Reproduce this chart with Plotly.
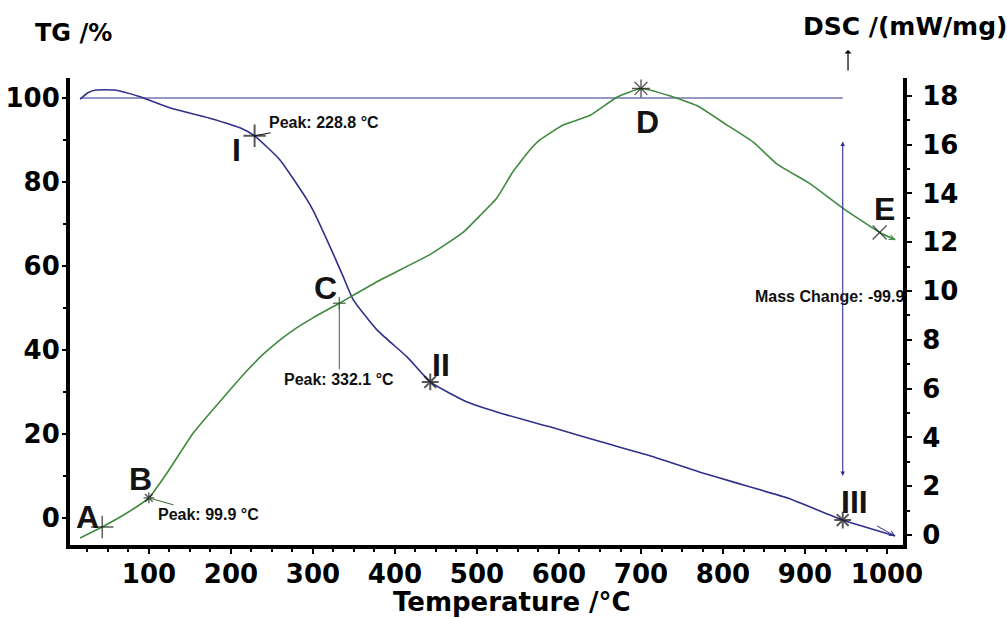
import plotly.graph_objects as go

# ---------------- data ----------------
tg_temp = [16, 25, 35, 58, 89, 126, 174, 211, 228.8, 260, 293, 300, 321, 337, 349,
           378, 415, 443, 488, 528, 589, 650, 711, 772, 812, 878, 946, 1010]
tg_val = [99.7, 101.2, 101.9, 101.9, 100.3, 97.6, 95.2, 92.9, 91.0, 85.2, 75.7, 73.3, 64.5, 57.4, 52.0,
          44.8, 38.3, 32.4, 27.6, 25.0, 21.7, 18.2, 14.8, 10.9, 8.6, 4.8, -0.5, -4.3]

dsc_temp = [16, 43, 73, 99.9, 122, 154, 195, 220, 239, 258, 276, 300, 332.1, 382, 443, 483, 504, 524,
            544, 565, 577, 605, 638, 671, 700, 735, 768, 805, 837, 866, 906, 946, 991, 1010]
dsc_val = [-0.12, 0.33, 0.9, 1.52, 2.54, 4.18, 5.8, 6.75, 7.4, 7.95, 8.4, 8.9, 9.5, 10.45, 11.5, 12.4, 13.1, 13.8,
           14.9, 15.8, 16.2, 16.8, 17.2, 17.95, 18.3, 18.0, 17.6, 16.8, 16.1, 15.2, 14.4, 13.4, 12.4, 12.1]

# reference (100 %) line and mass-change arrow
baseline_temp = [16, 946]
baseline_tg = [100, 100]
mass_change_temp = 946
mass_change_span = [90, 10]
mass_change_text = "Mass Change: -99.9 %"

# marked points
dsc_pt_names = ["A", "B", "C", "D", "E"]
dsc_pt_temp = [43, 99.9, 332.1, 700, 991]
dsc_pt_val = [0.33, 1.52, 9.5, 18.3, 12.4]
tg_pt_names = ["I", "II", "III"]
tg_pt_temp = [228.8, 443, 946]
tg_pt_val = [91.0, 32.4, -0.5]

peak_labels = ["Peak: 99.9 °C", "Peak: 228.8 °C", "Peak: 332.1 °C"]

x_title = "Temperature /°C"
y1_title = "TG /%"
y2_title = "DSC /(mW/mg)"

# ---------------- styles ----------------
TG_COLOR = "#30308c"
DSC_COLOR = "#3f8a3f"
TICK_FONT = dict(family="DejaVu Sans", size=26, color="black", weight="bold")
LBL_FONT = dict(family="Liberation Sans", size=16, color="#111111", weight="bold")
LETTER_FONT = dict(family="Liberation Sans", size=32, color="#141414", weight="bold")

fig = go.Figure()

fig.add_trace(go.Scatter(x=baseline_temp, y=baseline_tg, mode="lines",
                         line=dict(color=TG_COLOR, width=1.2), hoverinfo="skip"))
fig.add_trace(go.Scatter(x=tg_temp, y=tg_val, mode="lines",
                         line=dict(color=TG_COLOR, width=1.6, shape="spline", smoothing=0.5)))
fig.add_trace(go.Scatter(x=dsc_temp, y=dsc_val, mode="lines", yaxis="y2",
                         line=dict(color=DSC_COLOR, width=1.6, shape="spline", smoothing=0.4)))

# markers
dsc_symbols = ["cross-thin-open", "asterisk-open", "cross-thin-open", "asterisk-open", "x-thin-open"]
dsc_sizes = [16, 9, 9, 15, 14]
dsc_mcol = ["#111111", "#111111", "#1f4f1f", "#111111", "#111111"]
fig.add_trace(go.Scatter(x=dsc_pt_temp, y=dsc_pt_val, mode="markers", yaxis="y2",
                         marker=dict(symbol=dsc_symbols, size=dsc_sizes, color=dsc_mcol,
                                     line=dict(color=dsc_mcol, width=1.4))))
tg_symbols = ["cross-thin-open", "asterisk-open", "asterisk-open"]
fig.add_trace(go.Scatter(x=tg_pt_temp, y=tg_pt_val, mode="markers",
                         marker=dict(symbol=tg_symbols, size=[16, 14, 14], color="#111111",
                                     line=dict(color="#111111", width=2))))

# clipped "Mass Change" text
fig.add_trace(go.Scatter(x=[839], y=[52.4], mode="text", text=[mass_change_text],
                         textposition="middle right", cliponaxis=True,
                         textfont=LBL_FONT, hoverinfo="skip"))

ann = []
# point letters
dsc_shift = [(-15, 10), (-8, 19), (-14, 15), (6, -34), (5, 23)]
for n, t, v, (dx, dy) in zip(dsc_pt_names, dsc_pt_temp, dsc_pt_val, dsc_shift):
    ann.append(dict(x=t, y=v, xref="x", yref="y2", text=n, showarrow=False,
                    xshift=dx, yshift=dy, font=LETTER_FONT))
tg_shift = [(-18, -14), (11, 17), (12, 18)]
for n, t, v, (dx, dy) in zip(tg_pt_names, tg_pt_temp, tg_pt_val, tg_shift):
    ann.append(dict(x=t, y=v, xref="x", yref="y", text=n, showarrow=False,
                    xshift=dx, yshift=dy, font=LETTER_FONT))

# peak labels with leader lines
ann.append(dict(x=dsc_pt_temp[1], y=dsc_pt_val[1], xref="x", yref="y2", text=peak_labels[0],
                showarrow=True, arrowhead=0, arrowwidth=1, arrowcolor="#2f6f2f",
                ax=60, ay=17, font=LBL_FONT))
ann.append(dict(x=tg_pt_temp[0], y=tg_pt_val[0], xref="x", yref="y", text=peak_labels[1],
                showarrow=True, arrowhead=0, arrowwidth=1, arrowcolor="#111111",
                ax=69, ay=-13, font=LBL_FONT))
ann.append(dict(x=dsc_pt_temp[2], y=dsc_pt_val[2], xref="x", yref="y2", text=peak_labels[2],
                showarrow=True, arrowhead=0, arrowwidth=1, arrowcolor="#2f6f2f",
                ax=0, ay=76, font=LBL_FONT))

# mass change double arrow
ann.append(dict(x=mass_change_temp, y=mass_change_span[1], ax=mass_change_temp, ay=mass_change_span[0],
                xref="x", yref="y", axref="x", ayref="y", text="", showarrow=True,
                arrowhead=2, startarrowhead=2, arrowside="end+start", arrowsize=0.8,
                startarrowsize=0.8, arrowwidth=1.1, arrowcolor=TG_COLOR))

# curve-end arrowheads
ann.append(dict(x=tg_temp[-1], y=tg_val[-1], ax=tg_temp[-2] + 40, ay=tg_val[-2] - 1.2,
                xref="x", yref="y", axref="x", ayref="y", text="", showarrow=True,
                arrowhead=5, arrowsize=1, arrowwidth=1, arrowcolor=TG_COLOR))
ann.append(dict(x=dsc_temp[-1], y=dsc_val[-1], ax=dsc_temp[-2], ay=dsc_val[-2],
                xref="x", yref="y2", axref="x", ayref="y2", text="", showarrow=True,
                arrowhead=5, arrowsize=1, arrowwidth=1, arrowcolor=DSC_COLOR))

# axis titles
ann.append(dict(x=-0.045, y=1.096, xref="paper", yref="paper", xanchor="left", yanchor="middle",
                text=y1_title, showarrow=False,
                font=dict(family="DejaVu Sans", size=24, color="black", weight="bold")))
ann.append(dict(x=0.877, y=1.111, xref="paper", yref="paper", xanchor="left", yanchor="middle",
                text=y2_title, showarrow=False,
                font=dict(family="DejaVu Sans", size=25, color="black", weight="bold")))
ann.append(dict(x=0.934, y=1.06, xref="paper", yref="paper", text="", showarrow=True,
                ax=0, ay=22, arrowhead=1, arrowsize=1, arrowwidth=1.2, arrowcolor="black"))
ann.append(dict(x=0.531, y=-0.122, xref="paper", yref="paper", xanchor="center", yanchor="middle",
                text=x_title, showarrow=False,
                font=dict(family="DejaVu Sans", size=26, color="black", weight="bold")))

fig.update_layout(
    template="none",
    width=1007, height=619,
    margin=dict(l=70, r=104, t=78, b=74, autoexpand=False),
    paper_bgcolor="white", plot_bgcolor="white",
    showlegend=False,
    annotations=ann,
    xaxis=dict(range=[3.7, 1019.5], tick0=0, dtick=100, showgrid=False, zeroline=False,
               automargin=False,
               showline=True, linecolor="black", linewidth=4,
               ticks="outside", ticklen=5, tickwidth=2, tickcolor="black",
               tickfont=TICK_FONT, ticklabelstandoff=-2,
               minor=dict(dtick=25, ticks="outside", ticklen=3, tickwidth=1.5, tickcolor="black")),
    yaxis=dict(range=[-6.43, 104.76], tick0=0, dtick=20, showgrid=False, zeroline=False,
               automargin=False,
               showline=True, linecolor="black", linewidth=4,
               ticks="outside", ticklen=4, tickwidth=2, tickcolor="black",
               tickfont=TICK_FONT, ticklabelstandoff=-3,
               minor=dict(dtick=10, ticks="outside", ticklen=3, tickwidth=1.5, tickcolor="black")),
    yaxis2=dict(range=[-0.41, 18.73], tick0=0, dtick=2, overlaying="y", side="right",
                showgrid=False, zeroline=False, automargin=False,
                showline=True, linecolor="black", linewidth=4,
                ticks="outside", ticklen=5, tickwidth=2, tickcolor="black",
                tickfont=TICK_FONT, ticklabelstandoff=5,
                minor=dict(dtick=1, ticks="outside", ticklen=3, tickwidth=1.5, tickcolor="black")),
)

fig.write_html("out.html", config={"displayModeBar": False},
               post_script="document.body.style.margin='0px';document.body.style.padding='0px';")
